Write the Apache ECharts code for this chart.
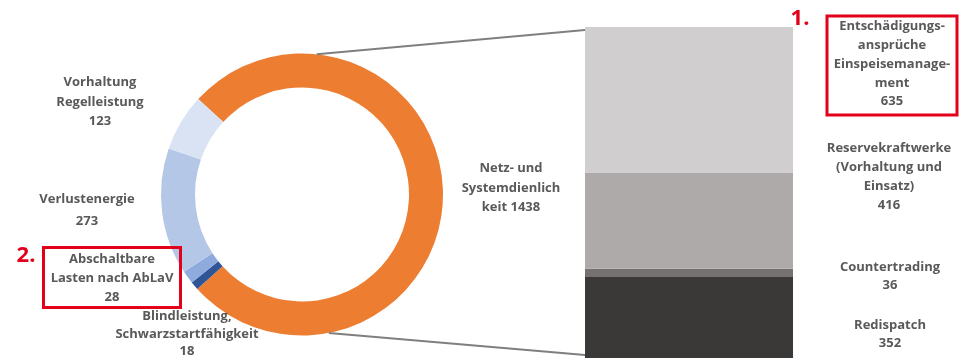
<!DOCTYPE html>
<html><head><meta charset="utf-8">
<script src="https://cdn.jsdelivr.net/npm/echarts@6/dist/echarts.min.js"></script>
<style>html,body{margin:0;padding:0;background:#fff}#c{width:959px;height:358px}</style>
</head><body><div id="c"></div>
<script>
// Donut (Netzentgelte-Kosten) data
var pieNames = ['Netz- und Systemdienlichkeit', 'Blindleistung, Schwarzstartfähigkeit', 'Abschaltbare Lasten nach AbLaV', 'Verlustenergie', 'Vorhaltung Regelleistung'];
var pieValues = [1438, 18, 28, 273, 123];
var pieLabels = ['Netz- und\nSystemdienlich\nkeit ', 'Blindleistung,\nSchwarzstartfähigkeit\n', 'Abschaltbare\nLasten nach AbLaV\n', 'Verlustenergie\n', 'Vorhaltung\nRegelleistung\n'];
var pieColors = ['#ED7D31', '#2F5597', '#8FAADC', '#B4C7E7', '#DAE3F3'];

// Stacked bar (breakdown of Netz- und Systemdienlichkeit), bottom to top
var barNames = ['Redispatch', 'Countertrading', 'Reservekraftwerke (Vorhaltung und Einsatz)', 'Entschädigungsansprüche Einspeisemanagement'];
var barValues = [352, 36, 416, 635];
var barLabels = ['Redispatch\n', 'Countertrading\n', 'Reservekraftwerke\n(Vorhaltung und\nEinsatz)\n', 'Entschädigungs-\nansprüche\nEinspeisemanage-\nment\n'];
var barColors = ['#3B3838', '#767171', '#AEAAAA', '#D0CECE'];

var chart = echarts.init(document.getElementById('c'), null, {renderer: 'canvas'});
var CX = 302, CY = 194.5, R0 = 107, R1 = 141;
var barTotal = barValues.reduce(function (a, b) { return a + b; }, 0);

var series = [{
  type: 'pie',
  center: [CX, CY],
  radius: [R0, R1],
  startAngle: 137.4,
  clockwise: true,
  avoidLabelOverlap: false,
  label: {show: false},
  labelLine: {show: false},
  silent: true,
  itemStyle: {borderWidth: 0},
  data: pieNames.map(function (n, i) { return {name: n, value: pieValues[i], itemStyle: {color: pieColors[i]}}; })
}];
barNames.forEach(function (n, i) {
  series.push({
    type: 'bar', stack: 's', name: n, barWidth: '100%', silent: true,
    xAxisIndex: 0, yAxisIndex: 0,
    itemStyle: {color: barColors[i]},
    data: [barValues[i]]
  });
});

var txtStyle = {fill: '#595959', fontFamily: 'Open Sans', fontWeight: 'bold', fontSize: 13, align: 'center', verticalAlign: 'middle'};
function label(text, x, y, lh) {
  return {type: 'text', x: x, y: y, z: 10, style: Object.assign({}, txtStyle, {text: text, lineHeight: lh})};
}
// label positions: [x, y center, lineHeight]
var piePos = [[511, 188, 19.5], [187, 334, 17.5], [112, 278, 19], [87, 210, 22], [100, 102, 19.5]];
var barPos = [[890, 334, 18], [890, 276, 18], [889, 177, 19], [892, 64, 18.8]];

var graphics = [];
pieLabels.forEach(function (t, i) { graphics.push(label(t + pieValues[i], piePos[i][0], piePos[i][1], piePos[i][2])); });
barLabels.forEach(function (t, i) { graphics.push(label(t + barValues[i], barPos[i][0], barPos[i][1], barPos[i][2])); });
// red highlight boxes
graphics.push({type: 'rect', z: 11, shape: {x: 43.5, y: 247.5, width: 137, height: 60}, style: {fill: null, stroke: '#E2001A', lineWidth: 3}});
graphics.push({type: 'rect', z: 11, shape: {x: 827, y: 16, width: 130, height: 99}, style: {fill: null, stroke: '#E2001A', lineWidth: 3}});
graphics.push({type: 'text', x: 800, y: 19, z: 11, style: {text: '1.', fill: '#E2001A', fontFamily: 'Open Sans', fontWeight: 'bold', fontSize: 22, align: 'center', verticalAlign: 'middle'}});
graphics.push({type: 'text', x: 26, y: 256, z: 11, style: {text: '2.', fill: '#E2001A', fontFamily: 'Open Sans', fontWeight: 'bold', fontSize: 22, align: 'center', verticalAlign: 'middle'}});

chart.setOption({
  animation: false,
  backgroundColor: '#fff',
  grid: {left: 585, width: 208, top: 27, height: 331, containLabel: false},
  xAxis: {type: 'category', data: ['Netz'], show: false},
  yAxis: {type: 'value', min: 0, max: barTotal, show: false},
  series: series,
  graphic: graphics
});

// connector lines from donut to stacked bar, derived from the layouts
var topPt = chart.convertToPixel({gridIndex: 0}, ['Netz', barTotal]);
var botPt = chart.convertToPixel({gridIndex: 0}, ['Netz', 0]);
var barLeft = 585;
function onCircle(deg) { var a = deg * Math.PI / 180; return [CX + R1 * Math.cos(a), CY - R1 * Math.sin(a)]; }
var p1 = onCircle(84), p2 = onCircle(-79);
chart.setOption({graphic: graphics.concat([
  {type: 'line', z: 5, shape: {x1: p1[0], y1: p1[1], x2: barLeft, y2: topPt[1] + 3}, style: {stroke: '#7F7F7F', lineWidth: 2}},
  {type: 'line', z: 5, shape: {x1: p2[0], y1: p2[1], x2: barLeft, y2: botPt[1] - 3}, style: {stroke: '#7F7F7F', lineWidth: 2}}
])}, {replaceMerge: ['graphic']});
</script></body></html>
